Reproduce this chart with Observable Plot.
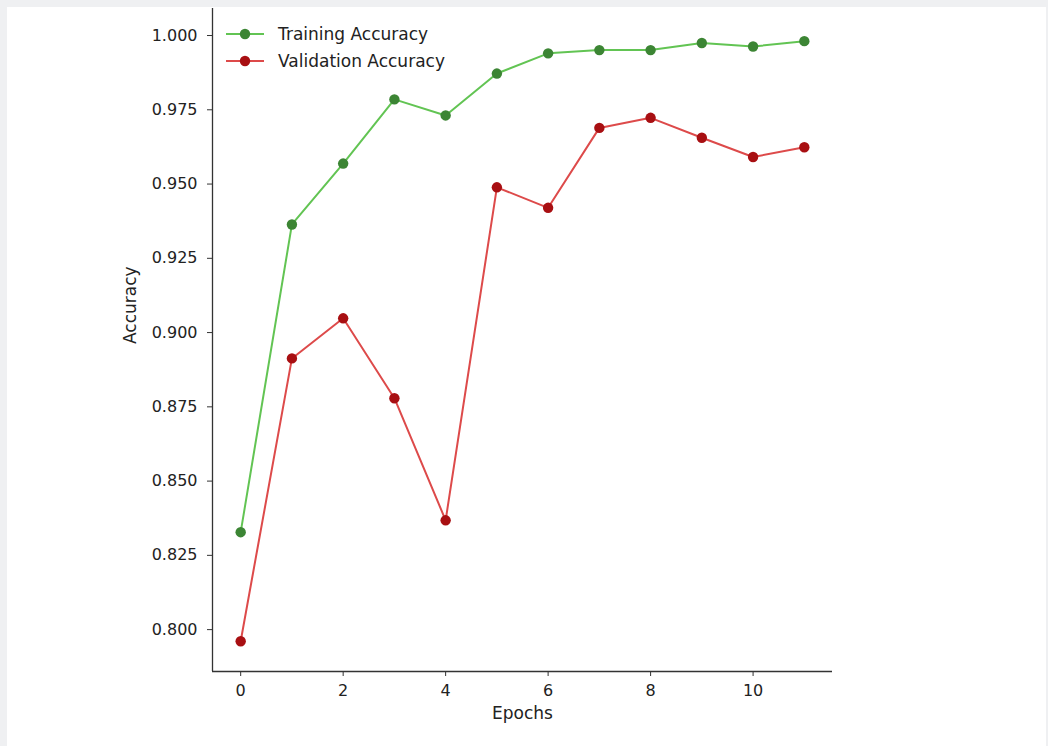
<!DOCTYPE html>
<html><head><meta charset="utf-8">
<script src="https://cdn.jsdelivr.net/npm/d3@7"></script>
<script src="https://cdn.jsdelivr.net/npm/@observablehq/plot@0.6"></script>
<style>
html,body{margin:0;padding:0;background:#eff0f2;width:1048px;height:746px;overflow:hidden}
#wrap{position:absolute;left:7px;top:7px;width:1039px;height:739px;background:#fff}
#legend{position:absolute;left:219px;top:13px;font-family:"DejaVu Sans",sans-serif;font-size:17px;color:#222}
.row{display:flex;align-items:center;height:27px}
.row svg{margin-right:14px}
</style></head><body><div id="wrap"><div id="chart"></div><div id="legend"></div></div>
<script>
const epochs = [0,1,2,3,4,5,6,7,8,9,10,11];
const trainAcc = [0.8328,0.9364,0.9569,0.9785,0.9731,0.9872,0.9940,0.9951,0.9951,0.9975,0.9963,0.9981];
const valAcc   = [0.7961,0.8913,0.9048,0.8779,0.8368,0.9489,0.9420,0.9689,0.9723,0.9656,0.9591,0.9624];
const seriesNames = ["Training Accuracy","Validation Accuracy"];
const lineColors = ["#62c453","#dd4a4a"];
const dotColors = ["#3c8534","#a80f12"];
const yTicks = [0.800,0.825,0.850,0.875,0.900,0.925,0.950,0.975,1.000];
const xTicks = [0,2,4,6,8,10];
const xDomain = [-0.55, 11.55];
const yDomain = [0.7859, 1.0091];

const train = epochs.map((e,i)=>({epoch:e, acc:trainAcc[i]}));
const val = epochs.map((e,i)=>({epoch:e, acc:valAcc[i]}));

const chart = Plot.plot({
  width: 1039, height: 739,
  marginLeft: 205, marginRight: 214, marginTop: 1, marginBottom: 75,
  style: {fontFamily: "DejaVu Sans, sans-serif", fontSize: "16px", color: "#222", background: "transparent"},
  x: {domain: xDomain},
  y: {domain: yDomain},
  marks: [
    Plot.axisY({ticks: yTicks, tickFormat: d3.format(".3f"), tickSize: 5, tickPadding: 10, label: null, stroke: "#333"}),
    Plot.axisX({ticks: xTicks, tickFormat: d3.format("d"), tickSize: 5, tickPadding: 8, label: null, stroke: "#333"}),
    Plot.ruleX([xDomain[0]], {stroke: "#333", strokeWidth: 1.3}),
    Plot.ruleY([yDomain[0]], {stroke: "#333", strokeWidth: 1.3}),
    Plot.line(train, {x: "epoch", y: "acc", stroke: lineColors[0], strokeWidth: 2}),
    Plot.dot(train, {x: "epoch", y: "acc", r: 5.2, fill: dotColors[0], stroke: "none"}),
    Plot.line(val, {x: "epoch", y: "acc", stroke: lineColors[1], strokeWidth: 2}),
    Plot.dot(val, {x: "epoch", y: "acc", r: 5.2, fill: dotColors[1], stroke: "none"}),
    Plot.text(["Accuracy"], {frameAnchor: "left", rotate: -90, dx: -82, dy: 4, fill: "#222", fontSize: 17}),
    Plot.text(["Epochs"], {frameAnchor: "bottom", dy: 47, fill: "#222", fontSize: 17})
  ]
});
document.getElementById("chart").appendChild(chart);

const legend = document.getElementById("legend");
seriesNames.forEach((name,i)=>{
  const row = document.createElement("div");
  row.className = "row";
  row.innerHTML = `<svg width="38" height="14"><line x1="0" y1="7" x2="38" y2="7" stroke="${lineColors[i]}" stroke-width="2"/><circle cx="19" cy="7" r="5.2" fill="${dotColors[i]}"/></svg><span>${name}</span>`;
  legend.appendChild(row);
});
</script>
</body></html>
